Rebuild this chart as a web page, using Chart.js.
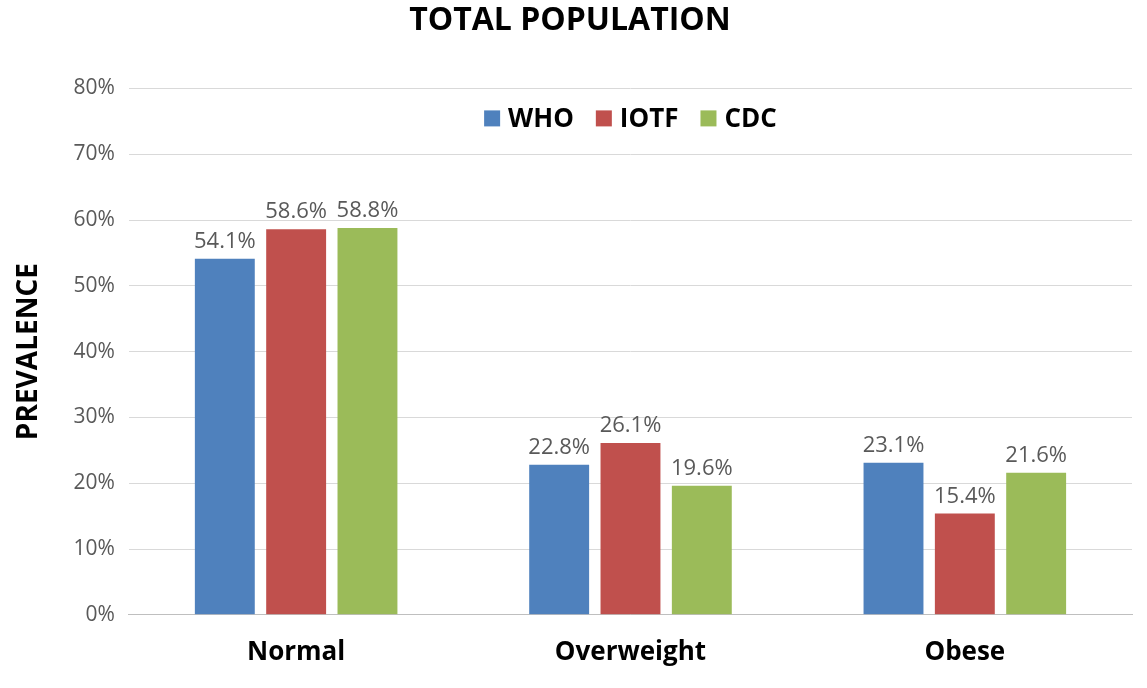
<!DOCTYPE html>
<html>
<head>
<meta charset="utf-8">
<script src="https://cdn.jsdelivr.net/npm/chart.js@4"></script>
<style>
  html, body { margin: 0; padding: 0; background: #fff; }
  #wrap { width: 1147px; height: 688px; }
</style>
</head>
<body>
<div id="wrap"><canvas id="chart"></canvas></div>
<script>
// Chart data
const categories = ['Normal', 'Overweight', 'Obese'];
const whoValues = [54.1, 22.8, 23.1];
const iotfValues = [58.6, 26.1, 15.4];
const cdcValues = [58.8, 19.6, 21.6];
const yTicks = [0, 10, 20, 30, 40, 50, 60, 70, 80];

const FONT = "'Open Sans', 'Liberation Sans', sans-serif";

// Draw value labels above each bar
const barLabels = {
    id: 'barLabels',
    afterDatasetsDraw(chart) {
        const ctx = chart.ctx;
        ctx.save();
        ctx.font = `22px ${FONT}`;
        ctx.fillStyle = '#595959';
        ctx.textAlign = 'center';
        ctx.textBaseline = 'bottom';
        chart.data.datasets.forEach((ds, i) => {
            chart.getDatasetMeta(i).data.forEach((bar, j) => {
                ctx.fillText(ds.data[j].toFixed(1) + '%', bar.x, bar.y - 6);
            });
        });
        ctx.restore();
    }
};

// Legend drawn inside the top of the plot area
const innerLegend = {
    id: 'innerLegend',
    afterDraw(chart) {
        const ctx = chart.ctx;
        const area = chart.chartArea;
        ctx.save();
        ctx.font = `bold 26px ${FONT}`;
        ctx.textBaseline = 'middle';
        const box = 16, gap = 8, spacing = 22;
        const items = chart.data.datasets.map(ds => ({
            label: ds.label, color: ds.backgroundColor,
            w: box + gap + ctx.measureText(ds.label).width
        }));
        const total = items.reduce((s, it) => s + it.w, 0) + spacing * (items.length - 1);
        let x = (area.left + area.right) / 2 - total / 2;
        const y = area.top + 30;
        items.forEach(it => {
            ctx.fillStyle = it.color;
            ctx.fillRect(x, y - box / 2, box, box);
            ctx.fillStyle = '#000';
            ctx.fillText(it.label, x + box + gap, y + 1);
            x += it.w + spacing;
        });
        ctx.restore();
    }
};

new Chart(document.getElementById('chart'), {
    type: 'bar',
    data: {
        labels: categories,
        datasets: [
            { label: 'WHO', data: whoValues, backgroundColor: '#4F81BD' },
            { label: 'IOTF', data: iotfValues, backgroundColor: '#C0504D' },
            { label: 'CDC', data: cdcValues, backgroundColor: '#9BBB59' }
        ]
    },
    options: {
        responsive: true,
        maintainAspectRatio: false,
        animation: false,
        categoryPercentage: 0.64,
        barPercentage: 0.84,
        layout: { padding: { left: 8, right: 15, bottom: 6 } },
        plugins: {
            title: {
                display: true,
                text: 'TOTAL POPULATION',
                color: '#000',
                font: { family: FONT, size: 32, weight: 'bold' },
                padding: { top: 2, bottom: 48 }
            },
            legend: { display: false },
            tooltip: { enabled: false }
        },
        scales: {
            x: {
                grid: { display: false },
                border: { color: '#bfbfbf' },
                ticks: {
                    color: '#000',
                    font: { family: FONT, size: 26, weight: 'bold' },
                    padding: 14
                }
            },
            y: {
                min: 0,
                max: 80,
                afterBuildTicks(axis) {
                    axis.ticks = yTicks.map(v => ({ value: v }));
                },
                grid: { color: '#d9d9d9', drawTicks: false },
                border: { display: false },
                ticks: {
                    color: '#595959',
                    font: { family: FONT, size: 21 },
                    padding: 14,
                    callback: v => v + '%'
                },
                title: {
                    display: true,
                    text: 'PREVALENCE',
                    color: '#000',
                    font: { family: FONT, size: 28, weight: 'bold' },
                    padding: { bottom: 14 }
                }
            }
        }
    },
    plugins: [barLabels, innerLegend]
});
</script>
</body>
</html>
